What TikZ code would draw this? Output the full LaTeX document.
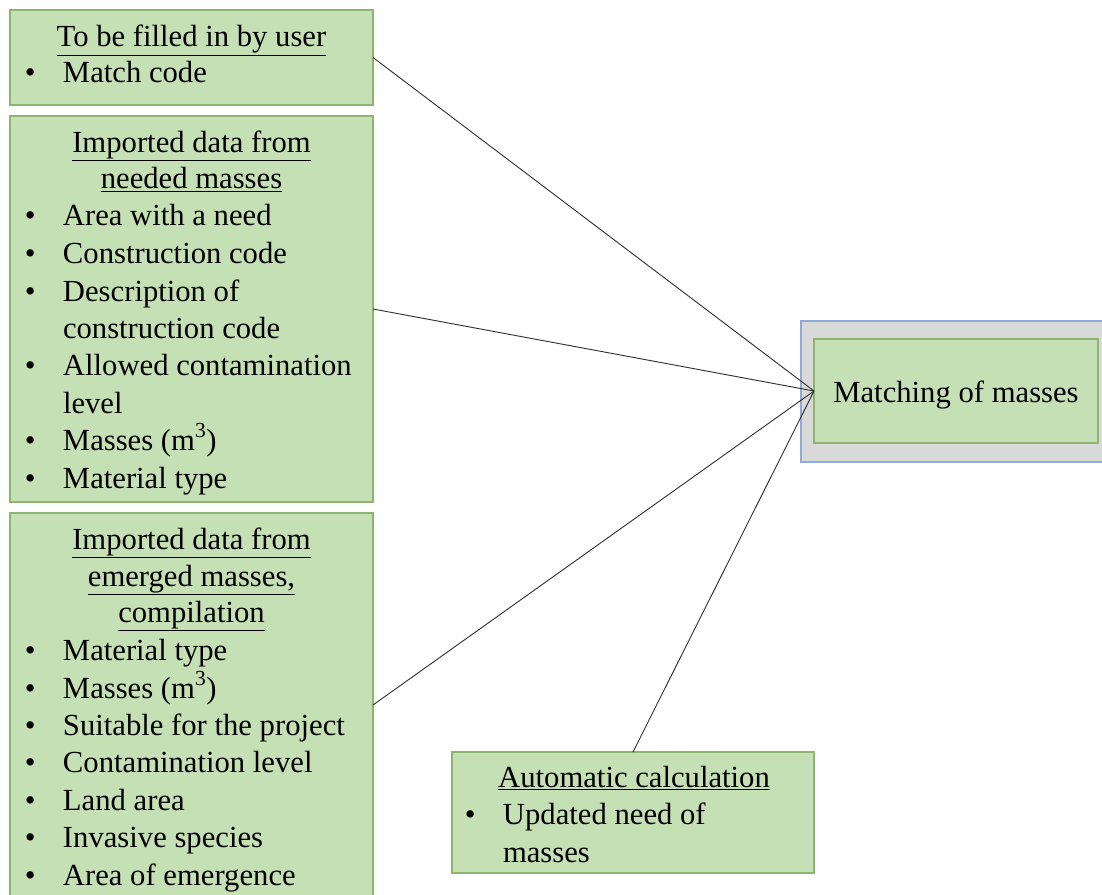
\documentclass[tikz,border=0pt]{standalone}
\usepackage{fontspec}
\setmainfont{Liberation Serif}
\usetikzlibrary{fit}
\definecolor{boxgreen}{HTML}{C5E0B4}
\definecolor{boxgreenline}{HTML}{8CB56F}
\definecolor{outergray}{HTML}{D9D9D9}
\definecolor{outerblue}{HTML}{8FAADC}
\definecolor{linkcol}{HTML}{333333}
\newcommand{\bul}{\llap{\textbullet\hspace{20.5pt}}}
\begin{document}
\begin{tikzpicture}[x=0.75pt,y=-0.75pt,
  greenbox/.style={draw=boxgreenline,fill=boxgreen,line width=1.1pt,inner sep=0pt,outer sep=0pt},
  outerbox/.style={draw=outerblue,fill=outergray,line width=1.1pt,inner sep=0pt,outer sep=0pt},
  txt/.style={inner sep=0pt,outer sep=0pt,font=\fontsize{23pt}{28pt}\selectfont},
  item/.style={txt,anchor=base west},
  ttl/.style={txt,anchor=base},
  link/.style={draw=linkcol,line width=0.7pt}]
\useasboundingbox (0,0) rectangle (1102,895);
% boxes
\node[greenbox,fit={(10,10)(373,105)}] (b1) {};
\node[greenbox,fit={(10,116)(373,502)}] (b2) {};
\node[greenbox,fit={(10,513)(373,897)}] (b3) {};
\node[greenbox,fit={(452,752)(814,873)}] (b4) {};
\node[outerbox,fit={(801,321)(1108,462)}] (outer) {};
\node[greenbox,fit={(814,339)(1098,443)}] (inner) {};
\node[txt,anchor=base] (m) at (956,402) {Matching of masses};
% box 1
\node[ttl] (t11) at (191.5,47) {\underline{To be filled in by user}};
\node[item] (t12) at (63,83) {\bul Match code};
% box 2
\node[ttl] (t21) at (191.5,152) {\underline{Imported data from}};
\node[ttl] (t22) at (191.5,189) {\underline{needed masses}};
\node[item] (t23) at (63,225) {\bul Area with a need};
\node[item] (t24) at (63,263) {\bul Construction code};
\node[item] (t25) at (63,301) {\bul Description of};
\node[item] (t26) at (63,338) {construction code};
\node[item] (t27) at (63,375) {\bul Allowed contamination};
\node[item] (t28) at (63,413) {level};
\node[item] (t29) at (63,450) {\bul Masses (m\textsuperscript{3})};
\node[item] (t2a) at (63,488) {\bul Material type};
% box 3
\node[ttl] (t31) at (191.5,549) {\underline{Imported data from}};
\node[ttl] (t32) at (191.5,586) {\underline{emerged masses,}};
\node[ttl] (t33) at (191.5,622) {\underline{compilation}};
\node[item] (t34) at (63,660) {\bul Material type};
\node[item] (t35) at (63,698) {\bul Masses (m\textsuperscript{3})};
\node[item] (t36) at (63,735) {\bul Suitable for the project};
\node[item] (t37) at (63,772) {\bul Contamination level};
\node[item] (t38) at (63,810) {\bul Land area};
\node[item] (t39) at (63,847) {\bul Invasive species};
\node[item] (t3a) at (63,885) {\bul Area of emergence};
% box 4
\node[ttl] (t41) at (634,787) {\underline{Automatic calculation}};
\node[item] (t42) at (503,824) {\bul Updated need of};
\node[item] (t43) at (503,862) {masses};
% connectors
\draw[link] (b1.east) -- (inner.west);
\draw[link] (b2.east) -- (inner.west);
\draw[link] (b3.east) -- (inner.west);
\draw[link] (b4.north) -- (inner.west);
\end{tikzpicture}
\end{document}
